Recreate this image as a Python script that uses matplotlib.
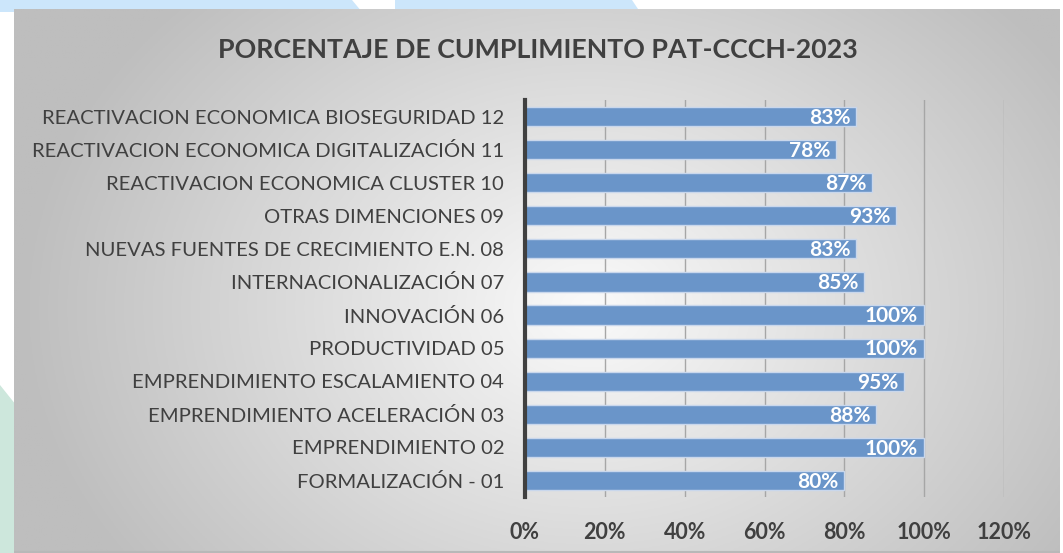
import numpy as np
import matplotlib.pyplot as plt
from matplotlib.patches import Polygon

categorias = [
    'REACTIVACION ECONOMICA BIOSEGURIDAD 12',
    'REACTIVACION ECONOMICA DIGITALIZACIÓN 11',
    'REACTIVACION ECONOMICA CLUSTER 10',
    'OTRAS DIMENCIONES 09',
    'NUEVAS FUENTES DE CRECIMIENTO E.N. 08',
    'INTERNACIONALIZACIÓN 07',
    'INNOVACIÓN 06',
    'PRODUCTIVIDAD 05',
    'EMPRENDIMIENTO ESCALAMIENTO 04',
    'EMPRENDIMIENTO ACELERACIÓN 03',
    'EMPRENDIMIENTO 02',
    'FORMALIZACIÓN - 01',
]
cumplimiento = [0.83, 0.78, 0.87, 0.93, 0.83, 0.85, 1.00, 1.00, 0.95, 0.88, 1.00, 0.80]
ticks_x = [0, 0.2, 0.4, 0.6, 0.8, 1.0, 1.2]
titulo = 'PORCENTAJE DE CUMPLIMIENTO PAT-CCCH-2023'

W, H = 1063, 553
plt.rcParams['font.family'] = ['Lato', 'DejaVu Sans']

fig = plt.figure(figsize=(W / 100, H / 100), dpi=100)
fig.patch.set_facecolor('white')

# formas de fondo (azul arriba, verde a la izquierda)
deco = fig.add_axes([0, 0, 1, 1])
deco.set_xlim(0, W)
deco.set_ylim(H, 0)
deco.axis('off')
deco.add_patch(Polygon([(0, 0), (352, 0), (362, 12), (0, 12)], color='#cce6fb', lw=0))
deco.add_patch(Polygon([(395, 0), (632, 0), (640, 12), (395, 12)], color='#cce6fb', lw=0))
deco.add_patch(Polygon([(0, 385), (16, 405), (16, H), (0, H)], color='#cde7dc', lw=0))

# fondo del grafico con degradado radial
x0, y0 = 14, 9
bg = fig.add_axes([x0 / W, 0, (W - 3 - x0) / W, (H - y0) / H])
gx, gy = np.meshgrid(np.linspace(0, 1, 400), np.linspace(0, 1, 220))
d = np.sqrt(((gx - 0.55) / 0.5) ** 2 + ((gy - 0.55) / 0.75) ** 2)
val = np.clip(250 - 55 * d, 190, 250) / 255.0
bg.imshow(np.dstack([val, val, val]), aspect='auto', extent=[0, 1, 1, 0])
bg.axis('off')
bg.plot([0, 1], [0.002, 0.002], color='#b8b8b8', lw=1.5, transform=bg.transAxes)

ax = fig.add_axes([525 / W, 1 - 497 / H, (1004 - 525) / W, (497 - 100) / H])
ax.patch.set_alpha(0)
y = np.arange(len(categorias))
ax.barh(y, cumplimiento, height=0.58, color='#6a95c9', edgecolor='#c9d7ec', lw=1, zorder=3)
for yi, v in zip(y, cumplimiento):
    ax.text(v - 0.015, yi + 0.04, f'{v:.0%}', ha='right', va='center', color='white',
            fontsize=15, fontweight='bold', zorder=4)

ax.set_xlim(0, 1.2)
ax.set_ylim(len(categorias) - 0.5, -0.5)
ax.set_yticks(y)
ax.set_yticklabels(categorias, fontsize=14.6, color='#404040')
ax.set_xticks(ticks_x)
ax.set_xticklabels([f'{t:.0%}' for t in ticks_x], fontsize=15.5, fontweight='bold', color='#404040')
ax.tick_params(axis='both', length=0)
ax.tick_params(axis='y', pad=15)
ax.tick_params(axis='x', pad=18)
ax.grid(axis='x', color='#a6a6a6', lw=1, zorder=0)
for s in ['top', 'right', 'bottom']:
    ax.spines[s].set_visible(False)
ax.spines['left'].set_color('#404040')
ax.spines['left'].set_linewidth(3)
ax.spines['left'].set_zorder(5)

fig.text(538 / W, 1 - 50 / H, titulo, ha='center', va='center', fontsize=19.3,
         fontweight='bold', color='#404040')

fig.savefig('out.png', dpi=100)
